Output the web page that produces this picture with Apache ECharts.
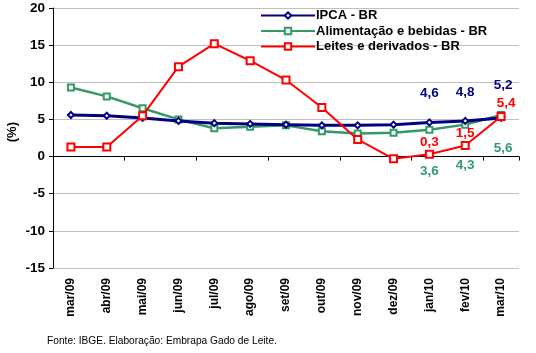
<!DOCTYPE html>
<html><head><meta charset="utf-8">
<script src="https://cdn.jsdelivr.net/npm/echarts@6/dist/echarts.min.js"></script>
<style>html,body{margin:0;padding:0;background:#fff}#c{width:536px;height:353px}</style>
</head><body><div id="c"></div>
<script>
const categories = ['mar/09','abr/09','mai/09','jun/09','jul/09','ago/09','set/09','out/09','nov/09','dez/09','jan/10','fev/10','mar/10'];
const ipca = [5.6, 5.5, 5.2, 4.8, 4.5, 4.4, 4.3, 4.2, 4.2, 4.3, 4.6, 4.8, 5.2];
const alimentacao = [9.3, 8.1, 6.5, 5.0, 3.8, 4.0, 4.2, 3.4, 3.1, 3.2, 3.6, 4.3, 5.6];
const leites = [1.3, 1.3, 5.5, 12.1, 15.2, 12.9, 10.3, 6.6, 2.3, -0.3, 0.3, 1.5, 5.4];
const yTicks = [-15, -10, -5, 0, 5, 10, 15, 20];
const labelFrom = 10;

const fmt = p => String(p.value).replace('.', ',');
function withLabels(arr, labelOpt, lastOpt) {
  return arr.map((v, i) => {
    if (i < labelFrom) return v;
    const o = Object.assign({}, labelOpt, (i === arr.length - 1 && lastOpt) ? lastOpt : {});
    return { value: v, label: Object.assign({ show: true, formatter: fmt }, o) };
  });
}
const lblFont = { fontFamily: 'Liberation Sans, Arial', fontWeight: 'bold', fontSize: 13.5 };

const chart = echarts.init(document.getElementById('c'), null, { renderer: 'canvas' });
chart.setOption({
  animation: false,
  backgroundColor: '#fff',
  grid: { left: 53, right: 17, top: 8, bottom: 85, containLabel: false },
  legend: {
    orient: 'vertical', left: 255, top: 4, itemWidth: 54, itemHeight: 8, itemGap: 2.5,
    textStyle: { fontFamily: 'Liberation Sans, Arial', fontWeight: 'bold', fontSize: 13, color: '#000', padding: [0, 0, 0, -4] },
    data: ['IPCA - BR', 'Alimentação e bebidas - BR', 'Leites e derivados - BR']
  },
  xAxis: [{
    type: 'category', data: categories, position: 'bottom',
    axisLine: { show: false, onZero: false }, axisTick: { show: false },
    axisLabel: { rotate: 90, fontFamily: 'Liberation Sans, Arial', fontWeight: 'bold', fontSize: 12, color: '#000', margin: 10, interval: 0 }
  }, {
    type: 'category', data: categories, position: 'bottom',
    axisLine: { show: true, onZero: true, lineStyle: { color: '#000', width: 1 } },
    axisTick: { show: true, length: 4, lineStyle: { color: '#000' } },
    axisLabel: { show: false }
  }],
  yAxis: {
    type: 'value', min: yTicks[0], max: yTicks[yTicks.length - 1], interval: 5,
    axisLine: { show: true, lineStyle: { color: '#000', width: 1 } },
    axisTick: { show: true, length: 4, lineStyle: { color: '#000' } },
    axisLabel: { fontFamily: 'Liberation Sans, Arial', fontWeight: 'bold', fontSize: 13.5, color: '#000', margin: 8 },
    splitLine: { lineStyle: { color: '#c0c0c0', width: 1 } }
  },
  graphic: [
    { type: 'text', left: 6, top: 122, rotation: Math.PI / 2, style: { text: '(%)', font: 'bold 13px "Liberation Sans", Arial', fill: '#000' } },
    { type: 'text', left: 47, top: 336, style: { text: 'Fonte: IBGE. Elaboração: Embrapa Gado de Leite.', font: '10.2px "Liberation Sans", Arial', fill: '#000' } }
  ],
  series: [{
    name: 'IPCA - BR', type: 'line', xAxisIndex: 0,
    data: withLabels(ipca, Object.assign({ position: 'top', distance: 18, color: '#000080' }, lblFont), { distance: 22, offset: [2, 0] }),
    symbol: 'emptyDiamond', symbolSize: 6, lineStyle: { color: '#000080', width: 3 },
    itemStyle: { color: '#000080', borderWidth: 1 }, z: 4
  }, {
    name: 'Alimentação e bebidas - BR', type: 'line', xAxisIndex: 0,
    data: withLabels(alimentacao, Object.assign({ position: 'bottom', distance: 30, color: '#339977' }, lblFont), { distance: 22, offset: [2, 0] }),
    symbol: 'emptyRect', symbolSize: 6, lineStyle: { color: '#339966', width: 2.5 },
    itemStyle: { color: '#339966', borderWidth: 1 }, z: 3
  }, {
    name: 'Leites e derivados - BR', type: 'line', xAxisIndex: 0,
    data: withLabels(leites, Object.assign({ position: 'top', distance: 1, color: '#ff0000' }, lblFont), { distance: 2, offset: [5, 0] }),
    symbol: 'emptyRect', symbolSize: 7, lineStyle: { color: '#ff0000', width: 2 },
    itemStyle: { color: '#ff0000', borderWidth: 1 }, z: 5
  }]
});
</script></body></html>
